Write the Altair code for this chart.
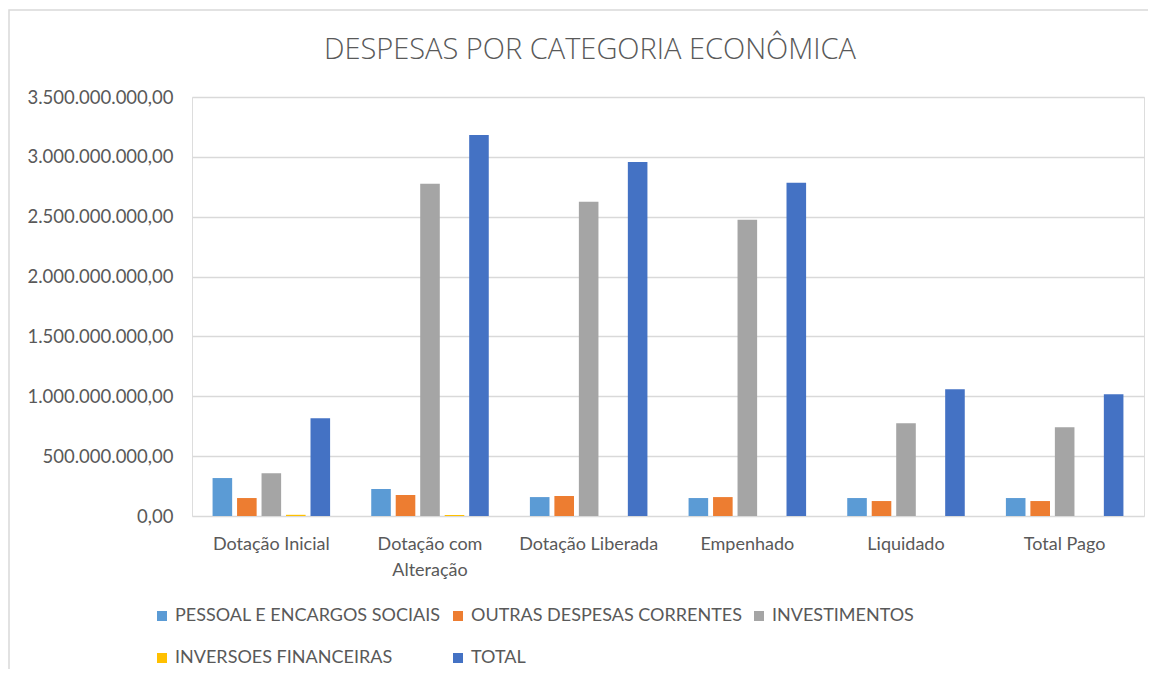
import altair as alt
import pandas as pd

categories = ["Dotação Inicial", "Dotação com Alteração", "Dotação Liberada",
              "Empenhado", "Liquidado", "Total Pago"]
series = ["PESSOAL E ENCARGOS SOCIAIS", "OUTRAS DESPESAS CORRENTES", "INVESTIMENTOS",
          "INVERSOES FINANCEIRAS", "TOTAL"]
colors = ["#5B9BD5", "#ED7D31", "#A5A5A5", "#FFC000", "#4472C4"]

pessoal = [317e6, 225e6, 158e6, 150e6, 150e6, 150e6]
outras = [150e6, 175e6, 167e6, 158e6, 125e6, 125e6]
investimentos = [358e6, 2775e6, 2625e6, 2475e6, 775e6, 742e6]
inversoes = [10e6, 8e6, 0, 0, 0, 0]
total = [817e6, 3183e6, 2958e6, 2783e6, 1058e6, 1017e6]

y_ticks = [0, 5e8, 1e9, 1.5e9, 2e9, 2.5e9, 3e9, 3.5e9]

rows = []
for s, vals in zip(series, [pessoal, outras, investimentos, inversoes, total]):
    for c, v in zip(categories, vals):
        rows.append({"categoria": c, "serie": s, "valor": v})
df = pd.DataFrame(rows)

FONT = "Lato"
TXT = "#595959"

bars = alt.Chart(df).mark_bar().encode(
    x=alt.X("categoria:N", sort=categories, title=None,
            scale=alt.Scale(paddingInner=0, paddingOuter=0),
            axis=alt.Axis(labelAngle=0, ticks=False, domain=False, grid=False,
                          labelFont=FONT, labelFontSize=18, labelColor=TXT,
                          labelPadding=19, labelLineHeight=26,
                          labelExpr="datum.value == 'Dotação com Alteração' ? ['Dotação com', 'Alteração'] : datum.value")),
    xOffset=alt.XOffset("serie:N", sort=series,
                        scale=alt.Scale(paddingInner=0.2, paddingOuter=0.84)),
    y=alt.Y("valor:Q", title=None,
            scale=alt.Scale(domain=[0, 3.5e9], nice=False),
            axis=alt.Axis(values=y_ticks, format=",.2f", ticks=False, domain=False,
                          labelFont=FONT, labelFontSize=18.5, labelColor=TXT,
                          labelPadding=19, gridColor="#D9D9D9", gridWidth=1.3)),
    color=alt.Color("serie:N", sort=series,
                    scale=alt.Scale(domain=series, range=colors),
                    legend=alt.Legend(title=None, orient="none", legendX=-39, legendY=510,
                                      direction="horizontal", columns=3,
                                      symbolType="square", symbolSize=100,
                                      symbolStrokeWidth=0,
                                      labelFont=FONT, labelFontSize=18, labelColor=TXT,
                                      labelOffset=4, rowPadding=24, columnPadding=8,
                                      labelLimit=400)),
)

border = alt.Chart(alt.Data(values=[{"b": 1}])).mark_rect(
    fill=None, stroke="#D9D9D9", strokeWidth=1.5
).encode(
    x=alt.value(-183), x2=alt.value(975), y=alt.value(-87), y2=alt.value(600)
)

chart = alt.layer(border, bars).properties(
    width=952, height=419,
    title=alt.TitleParams("DESPESAS POR CATEGORIA ECONÔMICA", font="Open Sans",
                          fontSize=29, fontWeight=300, color=TXT, anchor="middle",
                          frame="group", dx=-78, offset=-56),
    padding={"left": 184, "top": 89, "right": 4, "bottom": 153},
    autosize=alt.AutoSizeParams(type="none"),
).configure_view(stroke=None).configure(
    locale={"number": {"decimal": ",", "thousands": ".", "grouping": [3],
                       "currency": ["R$ ", ""]}}
)

chart.save("out.html", embed_options={"renderer": "svg", "actions": False})
